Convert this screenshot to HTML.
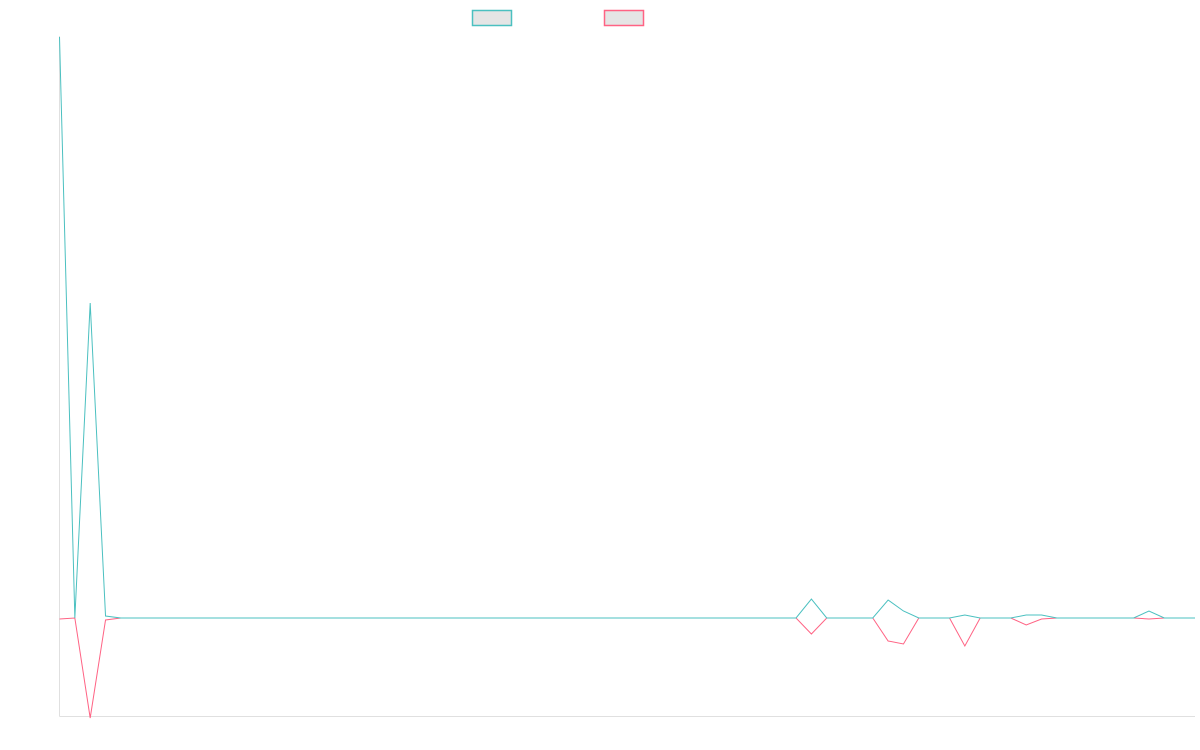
<!DOCTYPE html>
<html><head><meta charset="utf-8"><style>
html,body{margin:0;padding:0;background:#fff;width:1200px;height:750px;overflow:hidden;font-family:"Liberation Sans",sans-serif}
</style></head><body>
<svg id="chart" width="1200" height="750" xmlns="http://www.w3.org/2000/svg">
<g>
<rect x="472.5" y="10.5" width="39" height="15" fill="#e5e5e5" stroke="#4bc0c0" stroke-width="1.5"/>
<rect x="604.5" y="10.5" width="39" height="15" fill="#e5e5e5" stroke="#ff6384" stroke-width="1.5"/>
</g>
<line x1="59.5" y1="36" x2="59.5" y2="716.5" stroke="#e0e0e0"/>
<line x1="59.5" y1="716.5" x2="1195" y2="716.5" stroke="#e0e0e0"/>
<g id="series"></g>
</svg>
<script>
const pointCount = 75;
const seriesA = {0:581,1:0,2:315,3:2,49:19,54:18,55:7,59:3,63:3,64:3,71:7};
const seriesB = {0:-1,2:-100,3:-2,49:-16,54:-23,55:-26,59:-28,63:-7,64:-1,71:-1};
const yDomain = [-98, 582];
function xScale(i){return 59.5 + i*(1195-59.5)/(pointCount-1);}
function yScale(v){return 716 - (v - yDomain[0])/(yDomain[1]-yDomain[0])*(716-36);}
function build(data){const pts=[];for(let i=0;i<pointCount;i++){const v=data[i]||0;pts.push(xScale(i).toFixed(2)+','+yScale(v).toFixed(2));}return pts.join(' ');}
const g=document.getElementById('series');
const ns='http://www.w3.org/2000/svg';
const lb=document.createElementNS(ns,'polyline');


lb.setAttribute('points',build(seriesB));
lb.setAttribute('fill','none');lb.setAttribute('stroke','#ff6384');lb.setAttribute('stroke-width','1');
g.appendChild(lb);
const la=document.createElementNS(ns,'polyline');


la.setAttribute('points',build(seriesA));
la.setAttribute('fill','none');la.setAttribute('stroke','#4bc0c0');la.setAttribute('stroke-width','1');
g.appendChild(la);
</script>
</body></html>
